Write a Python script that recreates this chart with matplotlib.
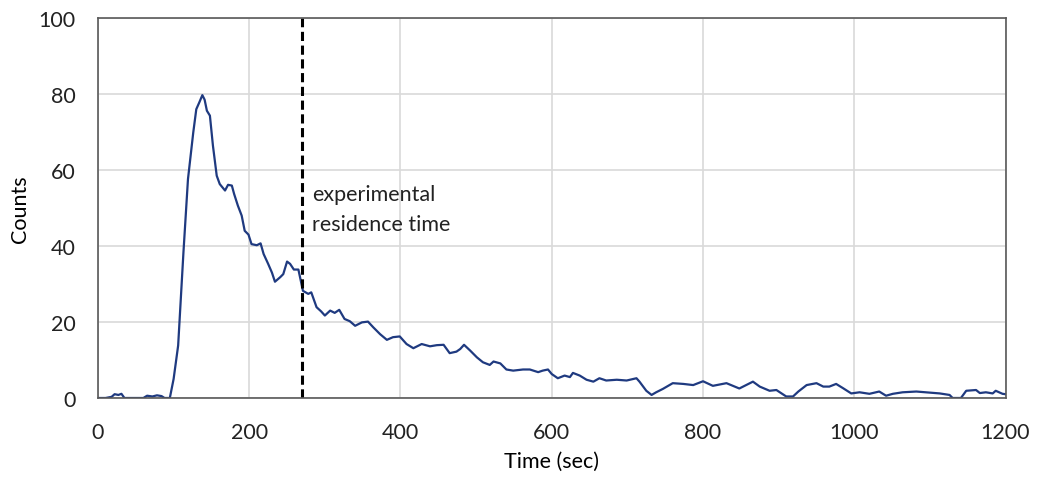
import numpy as np
import matplotlib.pyplot as plt

plt.rcParams['font.family'] = ['Lato', 'DejaVu Sans']

# values
timeSec = [0, 10, 18, 22, 27, 31, 35, 60, 65, 72, 78, 84, 88, 95,
           100, 106, 113, 119, 126, 130, 134, 138, 141, 144, 148, 152, 157,
           161, 168, 172, 177, 180, 185, 190, 194, 199, 203, 210, 215, 219,
           225, 230, 234, 241, 245, 250, 254, 259, 265, 271, 278, 282, 289,
           295, 300, 307, 313, 319, 326, 333, 340, 349, 357, 364, 373, 382,
           390, 399, 408, 417, 428, 439, 448, 457, 465, 474, 479, 484, 492,
           501, 509, 518, 523, 532, 540, 549, 562, 571, 582, 588, 595, 600,
           608, 617, 624, 628, 637, 646, 655, 663, 672, 686, 699, 712, 716,
           725, 732, 738, 747, 760, 774, 787, 800, 813, 831, 848, 866, 875,
           888, 897, 904, 910, 919, 926, 937, 950, 959, 967, 976, 985, 996,
           1007, 1020, 1033, 1042, 1051, 1064, 1082, 1095, 1113, 1126, 1130,
           1141, 1148, 1161, 1166, 1174, 1183, 1187, 1196, 1200]
counts = [0, 0, 0.3, 1.0, 0.8, 1.1, 0, 0, 0.6, 0.4, 0.7, 0.5, 0, 0,
          5.0, 13.8, 38.3, 57.6, 69.9, 76.0, 77.8, 79.7, 78.5, 75.6, 74.3, 66.4, 58.5,
          56.3, 54.6, 56.1, 55.9, 53.7, 50.6, 48.0, 44.0, 43.0, 40.5, 40.2, 40.7, 37.9,
          35.3, 33.0, 30.6, 31.8, 32.6, 35.9, 35.3, 33.8, 33.8, 28.2, 27.4, 27.8, 23.9,
          22.8, 21.7, 23.0, 22.4, 23.2, 20.8, 20.2, 19.0, 19.9, 20.1, 18.6, 16.8, 15.3,
          16.0, 16.2, 14.2, 13.1, 14.2, 13.6, 13.9, 14.0, 11.8, 12.2, 12.9, 14.0, 12.5,
          10.7, 9.4, 8.7, 9.6, 9.1, 7.5, 7.2, 7.5, 7.5, 6.8, 7.2, 7.5, 6.3,
          5.2, 5.9, 5.5, 6.6, 5.9, 4.8, 4.3, 5.2, 4.6, 4.8, 4.6, 5.2, 4.3,
          1.9, 0.8, 1.5, 2.4, 3.9, 3.7, 3.4, 4.4, 3.2, 3.9, 2.5, 4.3, 3.0,
          1.9, 2.1, 1.2, 0.4, 0.4, 1.7, 3.4, 3.9, 3.0, 3.0, 3.7, 2.6, 1.2,
          1.5, 1.1, 1.7, 0.6, 1.1, 1.5, 1.7, 1.5, 1.2, 0.8, 0,
          0, 1.9, 2.1, 1.3, 1.5, 1.2, 1.9, 1.1, 1.0]
residenceTime = 270

fig = plt.figure(figsize=(10.39, 4.81), dpi=100)
ax = fig.add_axes([0.0943, 0.1705, 0.8735, 0.79])

ax.plot(timeSec, counts, color='#1f3a80', linewidth=1.6)
ax.axvline(residenceTime, color='black', linestyle=(0, (3, 1.5)), linewidth=2.2)
ax.text(residenceTime + 13, 49.7, 'experimental\nresidence time', fontsize=15.5,
        va='center', ha='left', linespacing=1.6, color='#222222')

ax.set_xlim(0, 1200)
ax.set_ylim(0, 100)
ax.set_xticks(np.arange(0, 1201, 200))
ax.set_yticks(np.arange(0, 101, 20))
ax.grid(True, color='#d9d9d9', linewidth=1.2)
ax.set_axisbelow(True)
for s in ax.spines.values():
    s.set_color('#595959')
    s.set_linewidth(1.2)
ax.tick_params(length=0, labelsize=15.5, colors='#222222')
ax.tick_params(axis='x', pad=17)
ax.tick_params(axis='y', pad=16)
ax.set_xlabel('Time (sec)', fontsize=15.5, labelpad=7)
ax.set_ylabel('Counts', fontsize=15.5, labelpad=6)

fig.savefig('out.png', dpi=100)
